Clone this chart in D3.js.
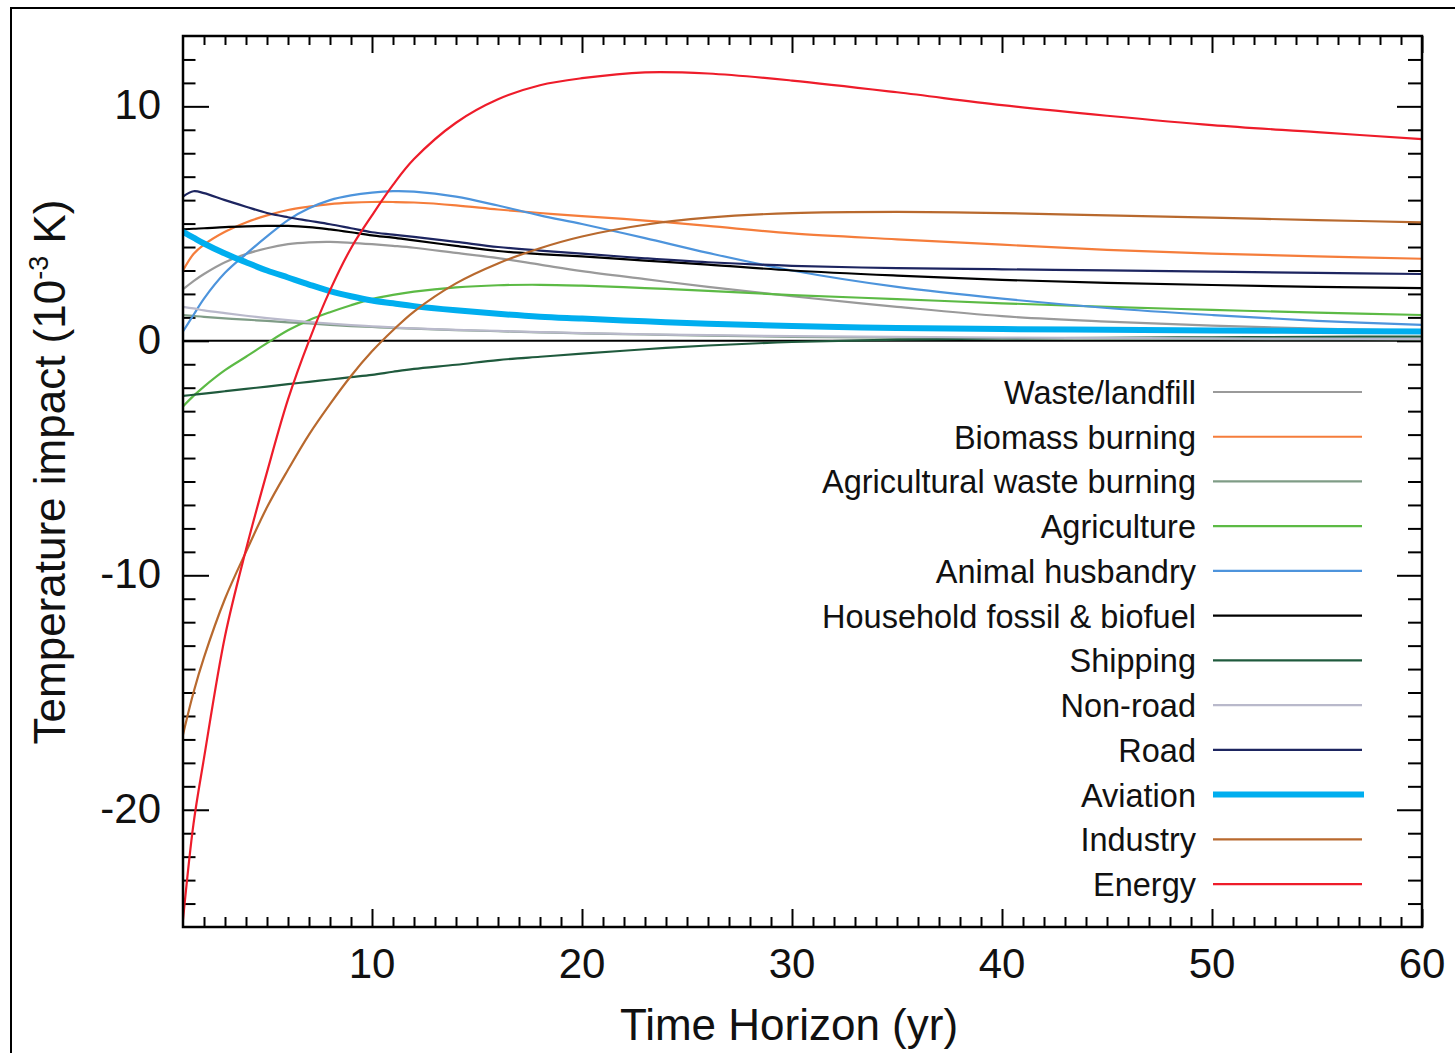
<!DOCTYPE html>
<html>
<head>
<meta charset="utf-8">
<script src="https://cdn.jsdelivr.net/npm/d3@7"></script>
<style>
  body { margin: 0; background: #fff; }
  svg { display: block; font-family: "Liberation Sans", Arial, Helvetica, sans-serif; }
</style>
</head>
<body>
<div id="chart"></div>
<script>
const years = [1, 1.5, 2, 3, 4, 5, 6, 7, 8, 9, 10, 11, 12, 14, 16, 18, 20, 23, 26, 30, 35, 40, 45, 50, 55, 60];

// temperature impact (10^-3 K)
const wasteLandfill = [2.2, 2.55, 2.85, 3.35, 3.7, 3.95, 4.12, 4.2, 4.22, 4.18, 4.12, 4.05, 3.97, 3.75, 3.53, 3.25, 2.97, 2.63, 2.3, 1.9, 1.45, 1.05, 0.82, 0.65, 0.52, 0.42];
const biomassBurning = [3.0, 3.7, 4.1, 4.65, 5.05, 5.35, 5.58, 5.72, 5.83, 5.89, 5.92, 5.92, 5.9, 5.78, 5.6, 5.45, 5.32, 5.13, 4.9, 4.58, 4.33, 4.1, 3.88, 3.72, 3.6, 3.5];
const agWasteBurning = [1.1, 1.06, 1.02, 0.96, 0.9, 0.85, 0.79, 0.74, 0.68, 0.63, 0.59, 0.55, 0.52, 0.46, 0.41, 0.36, 0.32, 0.27, 0.22, 0.17, 0.14, 0.11, 0.09, 0.08, 0.07, 0.06];
const agriculture = [-2.8, -2.35, -1.95, -1.25, -0.68, -0.1, 0.45, 0.88, 1.22, 1.52, 1.78, 1.96, 2.1, 2.28, 2.37, 2.39, 2.35, 2.25, 2.13, 1.95, 1.78, 1.6, 1.45, 1.32, 1.2, 1.1];
const animalHusbandry = [0.4, 1.1, 1.8, 2.9, 3.7, 4.45, 5.15, 5.65, 6.0, 6.2, 6.32, 6.38, 6.36, 6.15, 5.77, 5.35, 4.98, 4.38, 3.75, 3.0, 2.3, 1.8, 1.4, 1.1, 0.85, 0.68];
const household = [4.75, 4.78, 4.8, 4.85, 4.88, 4.9, 4.9, 4.85, 4.75, 4.63, 4.5, 4.4, 4.28, 4.05, 3.83, 3.7, 3.6, 3.42, 3.25, 3.0, 2.78, 2.6, 2.47, 2.38, 2.3, 2.25];
const shipping = [-2.35, -2.3, -2.25, -2.15, -2.05, -1.95, -1.85, -1.75, -1.65, -1.55, -1.45, -1.32, -1.2, -1.02, -0.82, -0.68, -0.55, -0.36, -0.2, -0.05, 0.05, 0.1, 0.13, 0.15, 0.17, 0.18];
const nonRoad = [1.45, 1.38, 1.3, 1.18, 1.07, 0.97, 0.88, 0.8, 0.73, 0.67, 0.62, 0.57, 0.53, 0.47, 0.42, 0.37, 0.33, 0.28, 0.24, 0.2, 0.17, 0.14, 0.12, 0.1, 0.09, 0.08];
const road = [6.15, 6.38, 6.3, 6.0, 5.72, 5.45, 5.27, 5.12, 4.97, 4.8, 4.63, 4.53, 4.43, 4.22, 4.0, 3.85, 3.72, 3.52, 3.35, 3.2, 3.1, 3.05, 3.0, 2.95, 2.9, 2.85];
const aviation = [4.65, 4.4, 4.15, 3.72, 3.35, 3.0, 2.7, 2.4, 2.12, 1.9, 1.72, 1.6, 1.48, 1.3, 1.15, 1.03, 0.95, 0.83, 0.73, 0.63, 0.55, 0.5, 0.47, 0.44, 0.42, 0.4];
const industry = [-16.8, -15.0, -13.5, -11.0, -9.0, -7.1, -5.5, -4.0, -2.7, -1.5, -0.45, 0.45, 1.25, 2.45, 3.3, 3.95, 4.45, 4.95, 5.25, 5.45, 5.5, 5.45, 5.35, 5.25, 5.15, 5.05];
const energy = [-24.7, -20.6, -17.8, -12.6, -8.9, -5.6, -2.5, 0, 2.15, 3.95, 5.35, 6.65, 7.75, 9.3, 10.3, 10.9, 11.2, 11.45, 11.4, 11.1, 10.6, 10.05, 9.6, 9.2, 8.9, 8.6];

const seriesNames = ['Waste/landfill', 'Biomass burning', 'Agricultural waste burning', 'Agriculture',
  'Animal husbandry', 'Household fossil & biofuel', 'Shipping', 'Non-road', 'Road', 'Aviation', 'Industry', 'Energy'];
const seriesValues = [wasteLandfill, biomassBurning, agWasteBurning, agriculture, animalHusbandry,
  household, shipping, nonRoad, road, aviation, industry, energy];
const seriesColors = ['#9a9a9a', '#f57d3b', '#7f9c86', '#5cba45', '#4d94dc', '#000000',
  '#1f5a3d', '#b9b9cb', '#1d2560', '#00aeef', '#b8692e', '#ee1c2a'];

const xTicksMajor = [10, 20, 30, 40, 50, 60];
const yTicksMajor = [-20, -10, 0, 10];

const width = 1455;
const height = 1053;
const plot = { left: 183, right: 1422, top: 36, bottom: 927 };

const svg = d3.select('#chart')
  .append('svg')
  .attr('width', width)
  .attr('height', height);

// outer frame of the figure (right and bottom edges fall outside the picture)
svg.append('rect')
  .attr('x', 11).attr('y', 8)
  .attr('width', 1470).attr('height', 1070)
  .attr('fill', 'none')
  .attr('stroke', '#000')
  .attr('stroke-width', 2);

const x = d3.scaleLinear().domain([1, 60]).range([plot.left, plot.right]);
const y = d3.scaleLinear().domain([-25, 13]).range([plot.bottom, plot.top]);

svg.append('defs').append('clipPath').attr('id', 'clip')
  .append('rect')
  .attr('x', plot.left).attr('y', plot.top)
  .attr('width', plot.right - plot.left).attr('height', plot.bottom - plot.top);

// ticks, all pointing inward
const xMinor = d3.range(2, 60).filter((d) => d % 10 !== 0);
const yMinor = d3.range(-24, 13).filter((d) => d % 10 !== 0);

function tickAxis(axis, transform) {
  const g = svg.append('g').attr('transform', transform).call(axis);
  g.select('.domain').remove();
  g.selectAll('.tick line').attr('stroke', '#000').attr('stroke-width', 2);
  return g;
}

tickAxis(d3.axisBottom(x).tickValues(xMinor).tickSize(-10).tickFormat(''), `translate(0,${plot.bottom})`);
tickAxis(d3.axisBottom(x).tickValues(xTicksMajor).tickSize(-18).tickFormat(''), `translate(0,${plot.bottom})`);
tickAxis(d3.axisTop(x).tickValues(xMinor).tickSize(-9).tickFormat(''), `translate(0,${plot.top})`);
tickAxis(d3.axisTop(x).tickValues(xTicksMajor).tickSize(-17).tickFormat(''), `translate(0,${plot.top})`);
tickAxis(d3.axisLeft(y).tickValues(yMinor).tickSize(-12.5).tickFormat(''), `translate(${plot.left},0)`);
tickAxis(d3.axisLeft(y).tickValues(yTicksMajor).tickSize(-26).tickFormat(''), `translate(${plot.left},0)`);
tickAxis(d3.axisRight(y).tickValues(yMinor).tickSize(-14).tickFormat(''), `translate(${plot.right},0)`);
tickAxis(d3.axisRight(y).tickValues(yTicksMajor).tickSize(-25).tickFormat(''), `translate(${plot.right},0)`);

// tick labels
svg.append('g').selectAll('text')
  .data(xTicksMajor)
  .join('text')
  .attr('x', (d) => x(d))
  .attr('y', 978)
  .attr('text-anchor', 'middle')
  .attr('font-size', 42)
  .attr('fill', '#111')
  .text((d) => d);

svg.append('g').selectAll('text')
  .data(yTicksMajor)
  .join('text')
  .attr('x', 161)
  .attr('y', (d) => y(d) + 13)
  .attr('text-anchor', 'end')
  .attr('font-size', 42)
  .attr('fill', '#111')
  .text((d) => d);

// zero line
svg.append('line')
  .attr('x1', plot.left).attr('x2', plot.right)
  .attr('y1', y(0)).attr('y2', y(0))
  .attr('stroke', '#000')
  .attr('stroke-width', 2);

// curves
const line = d3.line()
  .x((d, i) => x(years[i]))
  .y((d) => y(d))
  .curve(d3.curveCatmullRom.alpha(0.5));

svg.append('g').attr('clip-path', 'url(#clip)')
  .selectAll('path')
  .data(seriesValues)
  .join('path')
  .attr('d', line)
  .attr('fill', 'none')
  .attr('stroke', (d, i) => seriesColors[i])
  .attr('stroke-width', (d, i) => (seriesNames[i] === 'Aviation' ? 6 : 2.2));

// plot frame
svg.append('rect')
  .attr('x', plot.left).attr('y', plot.top)
  .attr('width', plot.right - plot.left).attr('height', plot.bottom - plot.top)
  .attr('fill', 'none')
  .attr('stroke', '#000')
  .attr('stroke-width', 2.5);

// legend
const legend = svg.append('g');
const rowY = (i) => 392 + i * 44.73;

legend.selectAll('line')
  .data(seriesNames)
  .join('line')
  .attr('x1', 1213)
  .attr('x2', (d) => (d === 'Aviation' ? 1364 : 1362))
  .attr('y1', (d, i) => rowY(i))
  .attr('y2', (d, i) => rowY(i))
  .attr('stroke', (d, i) => seriesColors[i])
  .attr('stroke-width', (d) => (d === 'Aviation' ? 6 : 2.2));

legend.selectAll('text')
  .data(seriesNames)
  .join('text')
  .attr('x', 1196)
  .attr('y', (d, i) => rowY(i) + 12)
  .attr('text-anchor', 'end')
  .attr('font-size', 32.5)
  .attr('fill', '#111')
  .text((d) => d);

// axis titles
svg.append('text')
  .attr('x', 789)
  .attr('y', 1040)
  .attr('text-anchor', 'middle')
  .attr('font-size', 44)
  .attr('fill', '#111')
  .text('Time Horizon (yr)');

const yTitle = svg.append('text')
  .attr('transform', 'translate(65,472) rotate(-90)')
  .attr('text-anchor', 'middle')
  .attr('font-size', 44)
  .attr('fill', '#111');
yTitle.append('tspan').text('Temperature impact (10');
yTitle.append('tspan').attr('font-size', 27).attr('dy', -17).text('-3');
yTitle.append('tspan').attr('dy', 17).text(' K)');
</script>
</body>
</html>
